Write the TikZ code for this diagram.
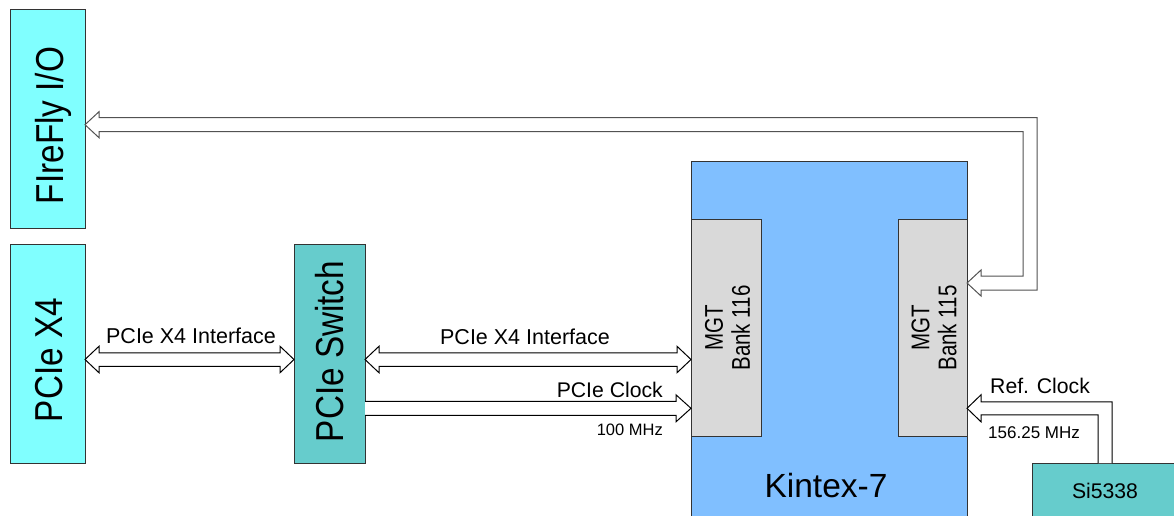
\documentclass[tikz,border=0pt]{standalone}
\usepackage{fontspec}
\setmainfont{Liberation Sans}
\usepackage{graphicx}
\usetikzlibrary{calc}
\definecolor{cyanbox}{HTML}{80FFFF}
\definecolor{tealbox}{HTML}{66CCCC}
\definecolor{kblue}{HTML}{80BFFF}
\definecolor{mgtgray}{HTML}{D9D9D9}
\newcommand\fsz[1]{\fontsize{#1}{#1}\selectfont}
\begin{document}
\begin{tikzpicture}[x=1pt,y=-1pt,
  blk/.style={draw=black!80, line width=1pt, inner sep=0pt, outer sep=0pt, anchor=north west},
  hollow/.style={draw=black, line width=1pt, fill=white, line join=miter},
  hollowgray/.style={hollow, draw=black!68},
  lbl/.style={inner sep=0pt},
  big/.style={inner sep=0pt, rotate=90, anchor=base, font=\fsz{33.3}},
  mgtlbl/.style={inner sep=0pt, rotate=90},
]
\useasboundingbox (0,0) rectangle (1174,515);

% blocks
\node[blk, fill=cyanbox, minimum width=75pt, minimum height=219pt] (ff) at (10,9) {};
\node[blk, fill=cyanbox, minimum width=75pt, minimum height=219pt] (px4) at (10,244) {};
\node[blk, fill=tealbox, minimum width=71pt, minimum height=219pt] (sw) at (294,244) {};
\node[blk, fill=kblue, minimum width=276pt, minimum height=370pt] (k7) at (691,161) {};
\node[blk, fill=mgtgray, minimum width=70pt, minimum height=217pt] (m116) at (691,219) {};
\node[blk, fill=mgtgray, minimum width=69pt, minimum height=217pt] (m115) at (898,219) {};
\node[blk, fill=tealbox, minimum width=160pt, minimum height=70pt] (si) at (1032,463) {};

% block texts
\node[big] (fft) at (63,125.5) {\scalebox{1}[1.17]{FIreFly I/O}};
\node[big] (px4t) at (62.7,360) {\scalebox{1}[1.17]{PCIe X4}};
\node[big] (swt) at (343.3,351.5) {\scalebox{1}[1.17]{PCIe Switch}};
\node[lbl, anchor=base, font=\fsz{33.5}] (k7t) at (826,497) {Kintex-7};
\node[mgtlbl] (m116t) at (731,328) {\scalebox{1}[1.25]{\fontsize{20.5}{21.5}\selectfont\begin{tabular}{@{}c@{}}MGT\\Bank 116\end{tabular}}};
\node[mgtlbl] (m115t) at (937.5,328) {\scalebox{1}[1.25]{\fontsize{20.5}{21.5}\selectfont\begin{tabular}{@{}c@{}}MGT\\Bank 115\end{tabular}}};
\node[lbl, anchor=base, font=\fsz{21.2}] (sit) at (1105,498) {Si5338};

% connector end points
\coordinate (a1l) at (px4.east |- 0,359.5);
\coordinate (a1r) at (sw.west |- 0,359.5);
\coordinate (a2l) at (sw.east |- 0,359.5);
\coordinate (a2r) at (m116.west |- 0,359.5);
\coordinate (a3l) at (sw.east |- 0,408.3);
\coordinate (a3r) at (m116.west |- 0,408.3);
\coordinate (fa) at (ff.east |- 0,124.7);
\coordinate (fb) at (m115.east |- 0,283);
\coordinate (fbend) at (1030,124.7);
\coordinate (fbend2) at (fbend |- fb);
\coordinate (rc) at (m115.east |- 0,408.3);
\coordinate (rcbend) at (1105,408.3);
\coordinate (rcbot) at (rcbend |- si.north);

% PCIe X4 <-> PCIe Switch
\draw[hollow] (a1l) -- ($(a1l)+(14,-13.25)$) -- ($(a1l)+(14,-6.75)$) -- ($(a1r)+(-14,-6.75)$) -- ($(a1r)+(-14,-13.25)$) -- (a1r)
  -- ($(a1r)+(-14,13.25)$) -- ($(a1r)+(-14,6.75)$) -- ($(a1l)+(14,6.75)$) -- ($(a1l)+(14,13.25)$) -- cycle;
% PCIe Switch <-> MGT 116
\draw[hollow] (a2l) -- ($(a2l)+(14,-13.25)$) -- ($(a2l)+(14,-6.75)$) -- ($(a2r)+(-14,-6.75)$) -- ($(a2r)+(-14,-13.25)$) -- (a2r)
  -- ($(a2r)+(-14,13.25)$) -- ($(a2r)+(-14,6.75)$) -- ($(a2l)+(14,6.75)$) -- ($(a2l)+(14,13.25)$) -- cycle;
% PCIe clock
\draw[hollow] ($(a3l)+(0,-7)$) -- ($(a3r)+(-15,-7)$) -- ($(a3r)+(-15,-13.5)$) -- (a3r) -- ($(a3r)+(-15,13.5)$) -- ($(a3r)+(-15,7)$) -- ($(a3l)+(0,7)$);
% FireFly <-> MGT 115
\draw[hollowgray] (fa) -- ($(fa)+(14,-13)$) -- ($(fa)+(14,-7)$) -- ($(fbend)+(7,-7)$) -- ($(fbend2)+(7,7)$) -- ($(fb)+(14,7)$) -- ($(fb)+(14,13)$) -- (fb)
  -- ($(fb)+(14,-13)$) -- ($(fb)+(14,-7)$) -- ($(fbend2)+(-7,-7)$) -- ($(fbend)+(-7,7)$) -- ($(fa)+(14,7)$) -- ($(fa)+(14,13)$) -- cycle;
% Ref clock
\draw[hollow] ($(rcbot)+(7,0)$) -- ($(rcbend)+(7,-6.5)$) -- ($(rc)+(14,-6.5)$) -- ($(rc)+(14,-13.5)$) -- (rc) -- ($(rc)+(14,13.5)$) -- ($(rc)+(14,6.5)$) -- ($(rcbend)+(-7,6.5)$) -- ($(rcbot)+(-7,0)$);

% connector labels
\node[lbl, anchor=base, font=\fsz{21.5}] (l1) at (191,343) {PCIe X4 Interface};
\node[lbl, anchor=base, font=\fsz{21.5}] (l2) at (525,344) {PCIe X4 Interface};
\node[lbl, anchor=base east, font=\fsz{21.2}] (l3) at (663,397) {PCIe Clock};
\node[lbl, anchor=base east, font=\fsz{16.5}] (l4) at (663,435) {100 MHz};
\node[lbl, anchor=base west, font=\fsz{21.2}] (l5) at (990,393) {Ref. Clock};
\node[lbl, anchor=base west, font=\fsz{17}] (l6) at (988,438) {156.25 MHz};
\end{tikzpicture}
\end{document}
